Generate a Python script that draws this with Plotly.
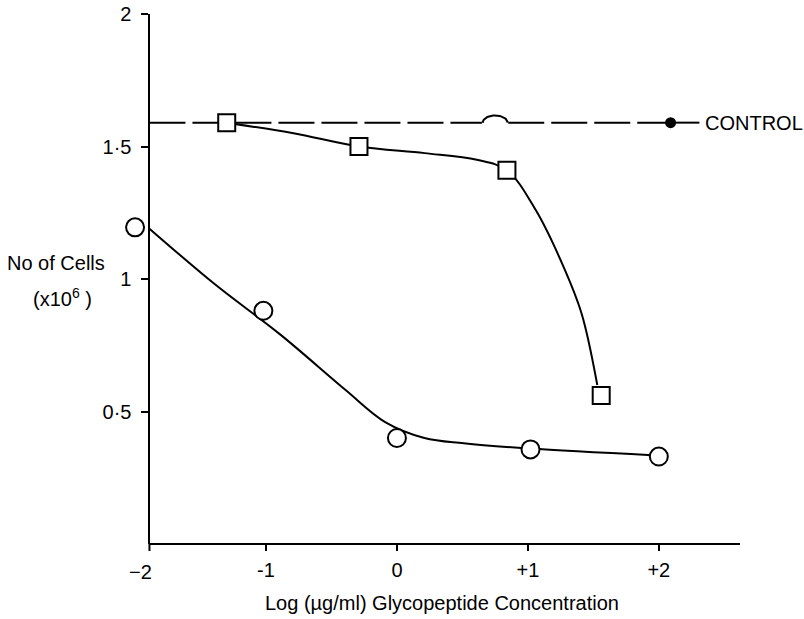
import numpy as np
import plotly.graph_objects as go

# --- data ---
circle_x = [-2.0, -1.02, 0.0, 1.02, 2.0]
circle_y = [1.195, 0.88, 0.40, 0.357, 0.33]
square_x = [-1.30, -0.29, 0.84, 1.56]
square_y = [1.59, 1.50, 1.41, 0.56]
circle_fit_x = [-1.89, -1.39, -0.89, -0.39, -0.09, 0.21, 0.51, 1.01, 1.95]
circle_fit_y = [1.19, 0.98, 0.79, 0.58, 0.46, 0.40, 0.38, 0.36, 0.335]
square_fit_x = [-1.24, -0.79, -0.29, 0.21, 0.61, 0.84, 1.06, 1.26, 1.41, 1.53]
square_fit_y = [1.585, 1.55, 1.50, 1.475, 1.45, 1.41, 1.26, 1.06, 0.87, 0.60]
control_level = 1.59
control_x = 2.09
control_tail = 2.31
hump_x = 0.75
x_ticks = [-2, -1, 0, 1, 2]
x_labels = ["\u22122", "-1", "0", "+1", "+2"]
y_ticks = [0.5, 1, 1.5, 2]
y_labels = ["0\u00b75", "1", "1\u00b75", "2"]

X_MIN, X_AXIS, X_MAX = -2.115, -1.89, 2.62
FONT = "Liberation Sans"
fig = go.Figure()

# control dashed line
dash = "36px,7px"
fig.add_trace(go.Scatter(x=[X_AXIS, hump_x - 0.1], y=[control_level] * 2, mode="lines",
                         line=dict(color="black", width=2, dash=dash), cliponaxis=False))
fig.add_trace(go.Scatter(x=[hump_x + 0.1, control_x], y=[control_level] * 2, mode="lines",
                         line=dict(color="black", width=2, dash=dash), cliponaxis=False))
t = np.linspace(np.pi, 0, 30)
fig.add_trace(go.Scatter(x=hump_x + 0.095 * np.cos(t), y=control_level + 0.027 * np.sin(t),
                         mode="lines", line=dict(color="black", width=2), cliponaxis=False))
fig.add_trace(go.Scatter(x=[control_x, control_tail], y=[control_level] * 2, mode="lines",
                         line=dict(color="black", width=2), cliponaxis=False))

# fitted curves
fig.add_trace(go.Scatter(x=circle_fit_x, y=circle_fit_y, mode="lines",
                         line=dict(color="black", width=2, shape="spline"), cliponaxis=False))
fig.add_trace(go.Scatter(x=square_fit_x, y=square_fit_y, mode="lines",
                         line=dict(color="black", width=2, shape="spline"), cliponaxis=False))

# markers
fig.add_trace(go.Scatter(x=circle_x, y=circle_y, mode="markers", cliponaxis=False,
                         marker=dict(symbol="circle", size=18, color="white",
                                     line=dict(color="black", width=2))))
fig.add_trace(go.Scatter(x=square_x, y=square_y, mode="markers", cliponaxis=False,
                         marker=dict(symbol="square", size=17, color="white",
                                     line=dict(color="black", width=2))))
fig.add_trace(go.Scatter(x=[control_x], y=[control_level], mode="markers", cliponaxis=False,
                         marker=dict(symbol="circle", size=11, color="black")))

fig.add_annotation(x=control_tail + 0.03, y=control_level, text="CONTROL", showarrow=False,
                   xanchor="left", yanchor="middle", font=dict(family=FONT, size=20, color="black"))

W, H = 804, 619
PPU = 131
L = 120
PW = round((X_MAX - X_MIN) * PPU)
R = W - L - PW
T, B = 14, 75
PH = H - T - B

def px_to_paper(px, py):
    return (px - L) / PW, (H - B - py) / PH

for txt, (px, py) in [("No of Cells", (56, 263)), ("(x10<sup>6</sup> )", (62, 297)),
                      ("Log (\u00b5g/ml) Glycopeptide Concentration", (442, 603))]:
    xp, yp = px_to_paper(px, py)
    fig.add_annotation(x=xp, y=yp, xref="paper", yref="paper", text=txt, showarrow=False,
                       xanchor="center", yanchor="middle",
                       font=dict(family=FONT, size=20, color="black"))

# "-2" label sits left of the axis corner
fig.add_annotation(x=x_ticks[0], y=px_to_paper(0, 572)[1], xref="x", yref="paper",
                   text=x_labels[0], showarrow=False, xanchor="center", yanchor="middle",
                   xshift=5, font=dict(family=FONT, size=20, color="black"))

# bottom axis line starting at the y axis, with the corner stub below
fig.add_shape(type="line", xref="x", yref="paper", x0=X_AXIS, x1=X_MAX, y0=0, y1=0,
              line=dict(color="black", width=2))
fig.add_shape(type="line", xref="x", yref="paper", x0=X_AXIS, x1=X_AXIS, y0=0, y1=-7 / PH,
              line=dict(color="black", width=2))

fig.update_layout(
    width=W, height=H, margin=dict(l=L, r=R, t=T, b=B, autoexpand=False),
    paper_bgcolor="white", plot_bgcolor="white", showlegend=False,
    font=dict(family=FONT, size=20, color="black"),
)
fig.update_xaxes(range=[X_MIN, X_MAX], showgrid=False, zeroline=False, showline=False,
                 ticks="outside", ticklen=6, tickwidth=2, automargin=False,
                 tickcolor="black", tickvals=x_ticks[1:], ticktext=x_labels[1:],
                 tickfont=dict(family=FONT, size=20), ticklabelstandoff=2)
fig.update_yaxes(range=[0, 2], showgrid=False, zeroline=False, showline=True,
                 anchor="free", position=(X_AXIS - X_MIN) / (X_MAX - X_MIN),
                 linecolor="black", linewidth=2, ticks="outside", ticklen=7, tickwidth=2,
                 automargin=False,
                 tickcolor="black", tickvals=y_ticks, ticktext=y_labels,
                 tickfont=dict(family=FONT, size=20), ticklabelstandoff=6)

fig.write_html("out.html")
